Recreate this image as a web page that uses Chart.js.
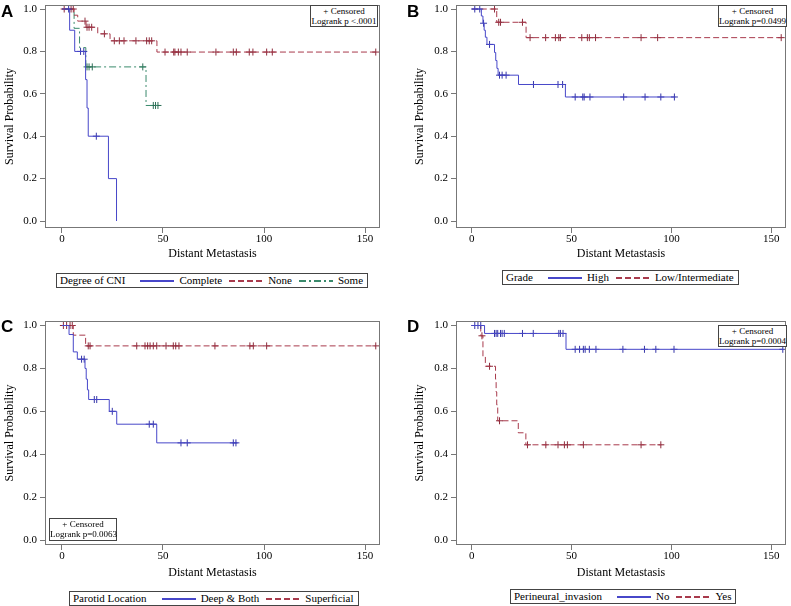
<!DOCTYPE html>
<html lang="en">
<head>
<meta charset="UTF-8">
<title>Distant metastasis - Kaplan-Meier curves</title>
<script src="https://cdn.jsdelivr.net/npm/chart.js"></script>
<style>
  body { margin: 0; background: #fff; font-family: 'Liberation Serif', 'Times New Roman', serif; color: #000; }
  #page { position: relative; width: 791px; height: 606px; overflow: hidden; }
  canvas { position: absolute; }
  .letter { position: absolute; font-family: 'Liberation Sans', Arial, sans-serif; font-weight: bold; font-size: 17px; line-height: 17px; }
  .inset { position: absolute; box-sizing: border-box; border: 1px solid #444; background: #fff;
           font-size: 9px; line-height: 10px; text-align: center; padding-top: 0; white-space: nowrap; }
  .legend { position: absolute; box-sizing: border-box; height: 15px; border: 1px solid #444;
            font-size: 11px; line-height: 13px; display: flex; align-items: center;
            padding: 0 4px 0 3px; white-space: nowrap; }
  .legend .ttl { margin-right: 15px; }
  .legend svg { display: block; margin-right: 5px; }
  .legend .lbl { margin-right: 7px; }
  .legend .lbl:last-child { margin-right: 0; }
</style>
</head>
<body>
<div id="page">
  <canvas id="cA"></canvas>
  <canvas id="cB"></canvas>
  <canvas id="cC"></canvas>
  <canvas id="cD"></canvas>

  <div class="letter" style="left:1px; top:3px;">A</div>
  <div class="letter" style="left:407px; top:3px;">B</div>
  <div class="letter" style="left:1px; top:318px;">C</div>
  <div class="letter" style="left:407px; top:318px;">D</div>

  <div class="inset" style="left:310px; top:5px; width:68px; height:22px;">+ Censored<br>Logrank p &lt;.0001</div>
  <div class="inset" style="left:718px; top:5px; width:69px; height:22px;">+ Censored<br>Logrank p=0.0499</div>
  <div class="inset" style="left:49px; top:518px; width:68px; height:23px;">+ Censored<br>Logrank p=0.0063</div>
  <div class="inset" style="left:718px; top:325px; width:69px; height:22px;">+ Censored<br>Logrank p=0.0004</div>

  <div class="legend" id="legA" style="left:56px; top:273px;"></div>
  <div class="legend" id="legB" style="left:502px; top:270px;"></div>
  <div class="legend" id="legC" style="left:69px; top:591px;"></div>
  <div class="legend" id="legD" style="left:510px; top:589px;"></div>
</div>

<script>
// axis ticks shared by all four panels
const xTicks = [0, 50, 100, 150];
const yTicks = [0, 0.2, 0.4, 0.6, 0.8, 1.0];

// A - Degree of CNI (step times, survival after the step, censor times)
const cniCompleteTimes = [0, 3.8, 6.3, 11.7, 12.4, 13, 23, 27];
const cniCompleteSurv  = [1, 0.9, 0.8, 0.667, 0.533, 0.4, 0.2, 0];
const cniCompleteCens  = [3.3, 9.2, 10.8, 17];
const cniNoneTimes = [0, 6, 7.8, 11.9, 17.7, 23.8, 47, 155.3];
const cniNoneSurv  = [1, 0.971, 0.943, 0.914, 0.883, 0.85, 0.797, 0.797];
const cniNoneCens  = [1.1, 4.5, 5.6, 11.4, 12.4, 13.4, 14.7, 21, 25.9, 28.4, 30.7, 36.6, 41.9, 43.2, 44.4,
                      51, 55.3, 55.9, 57.6, 58.9, 62, 76.2, 84.8, 86.3, 92.7, 94.5, 101.3, 104.1, 155.3];
const cniSomeTimes = [0, 6, 8.7, 11.8, 41.6, 47.5];
const cniSomeSurv  = [1, 0.909, 0.818, 0.727, 0.545, 0.545];
const cniSomeCens  = [12.4, 13.4, 15, 40, 45.2, 46.3, 47.5];

// B - Grade
const gradeHighTimes = [0, 4.8, 5.6, 6.2, 6.8, 7.6, 11.4, 12, 12.6, 13.2, 23.4, 46.9, 102];
const gradeHighSurv  = [1, 0.967, 0.933, 0.9, 0.867, 0.833, 0.795, 0.757, 0.72, 0.688, 0.644, 0.585, 0.585];
const gradeHighCens  = [1.5, 4, 5.9, 8.9, 13.9, 15.2, 17.2, 30.9, 43.2, 45.5, 51.8, 55.6, 56.3, 59.2, 76.1, 86.8, 94.7, 101.5];
const gradeLowTimes = [0, 12.5, 27.2, 155];
const gradeLowSurv  = [1, 0.9375, 0.865, 0.865];
const gradeLowCens  = [11.4, 13.5, 14.4, 25.4, 29.2, 37, 41.9, 43.6, 44.4, 55.1, 57.9, 58.9, 62, 84.8, 93.1, 155];

// C - Parotid location
const locDeepTimes = [0, 3.5, 5.6, 7.6, 11.4, 12, 12.6, 13.2, 23.4, 27.1, 46.9, 87];
const locDeepSurv  = [1, 0.958, 0.877, 0.843, 0.8, 0.75, 0.7, 0.655, 0.6, 0.54, 0.453, 0.453];
const locDeepCens  = [9.7, 11, 16, 17.2, 24.9, 43.2, 45.2, 58.9, 62, 84.8, 86.1];
const locSupTimes = [0, 5.6, 11.7, 155.3];
const locSupSurv  = [1, 0.955, 0.905, 0.905];
const locSupCens  = [0.7, 2.3, 4, 5.1, 13, 13.9, 37, 41.1, 42.4, 43.6, 45.2, 46.9, 51.5, 55.1, 56.3, 57.9,
                     75.7, 93, 94.7, 101.3, 155.3];

// D - Perineural invasion
const pniNoTimes = [0, 6.4, 47.2, 155.8];
const pniNoSurv  = [1, 0.963, 0.889, 0.889];
const pniNoCens  = [1.5, 3.1, 4.5, 11.4, 12.2, 13, 14.4, 15.2, 16.3, 25.4, 30.8, 43.6, 44.4, 45.7,
                    51.8, 54, 55.9, 56.8, 58.9, 62.2, 75.7, 86.5, 92.2, 101.3, 155.8];
const pniYesTimes = [0, 4.5, 5.6, 6.8, 11.9, 12.2, 12.5, 13, 23.3, 27.1, 95];
const pniYesSurv  = [1, 0.952, 0.857, 0.81, 0.75, 0.69, 0.63, 0.556, 0.5, 0.444, 0.444];
const pniYesCens  = [5.1, 8.9, 13.9, 27.9, 37.1, 43.2, 46.4, 47.9, 55.9, 84.8, 94.7];

const BLUE = '#4747c9', RED = '#a83a4c', GREEN = '#3a8a6c';
const SOLID = [], DASH = [6, 3], DASHDOT = [7, 3, 2, 3];
const serif = "'Liberation Serif', 'Times New Roman', serif";

function group(label, times, surv, cens, color, mark, dash) {
  return { label, times, surv, cens, color, mark, dash };
}

// survival value of the step curve at time t
function survAt(times, surv, t) {
  let s = surv[0];
  for (let i = 0; i < times.length; i++) if (times[i] <= t) s = surv[i];
  return s;
}

const framePlugin = {
  id: 'frame',
  afterDraw(chart) {
    const { ctx, chartArea: a } = chart;
    const l = Math.round(a.left) + 0.5, t = Math.round(a.top) + 0.5;
    const r = Math.round(a.right) - 0.5, b = Math.round(a.bottom) - 0.5;
    ctx.save();
    ctx.strokeStyle = '#777';
    ctx.lineWidth = 1;
    ctx.strokeRect(l, t, r - l, b - t);
    ctx.restore();
  }
};

const panels = [
  { id: 'cA', legend: 'legA', title: 'Degree of CNI',
    box: { x: 0, y: 0, w: 395, h: 265 }, plot: { left: 45, top: 2, right: 380, bottom: 228 },
    yTitleX: 10, xTitleY: 254, xMin: -8.4, xMax: 157.4, yMin: -0.033, yMax: 1.019,
    groups: [
      group('Complete', cniCompleteTimes, cniCompleteSurv, cniCompleteCens, BLUE, '#3535a8', SOLID),
      group('None', cniNoneTimes, cniNoneSurv, cniNoneCens, RED, '#8e2c3c', DASH),
      group('Some', cniSomeTimes, cniSomeSurv, cniSomeCens, GREEN, '#2c6e56', DASHDOT)
    ] },
  { id: 'cB', legend: 'legB', title: 'Grade',
    box: { x: 395, y: 0, w: 396, h: 265 }, plot: { left: 456, top: 2, right: 790, bottom: 228 },
    yTitleX: 419.5, xTitleY: 254, xMin: -7.9, xMax: 157.4, yMin: -0.033, yMax: 1.019,
    groups: [
      group('High', gradeHighTimes, gradeHighSurv, gradeHighCens, BLUE, '#3535a8', SOLID),
      group('Low/Intermediate', gradeLowTimes, gradeLowSurv, gradeLowCens, RED, '#8e2c3c', DASH)
    ] },
  { id: 'cC', legend: 'legC', title: 'Parotid Location',
    box: { x: 0, y: 300, w: 395, h: 285 }, plot: { left: 45, top: 321, right: 380, bottom: 545 },
    yTitleX: 10, xTitleY: 573, xMin: -8.4, xMax: 157.4, yMin: -0.023, yMax: 1.021,
    groups: [
      group('Deep & Both', locDeepTimes, locDeepSurv, locDeepCens, BLUE, '#3535a8', SOLID),
      group('Superficial', locSupTimes, locSupSurv, locSupCens, RED, '#8e2c3c', DASH)
    ] },
  { id: 'cD', legend: 'legD', title: 'Perineural_invasion',
    box: { x: 395, y: 300, w: 396, h: 285 }, plot: { left: 456, top: 321, right: 790, bottom: 545 },
    yTitleX: 420, xTitleY: 573, xMin: -7.9, xMax: 157.4, yMin: -0.023, yMax: 1.021,
    groups: [
      group('No', pniNoTimes, pniNoSurv, pniNoCens, BLUE, '#3535a8', SOLID),
      group('Yes', pniYesTimes, pniYesSurv, pniYesCens, RED, '#8e2c3c', DASH)
    ] }
];

function buildLegend(p) {
  let html = '<span class="ttl">' + p.title + '</span>';
  p.groups.forEach(g => {
    html += '<svg width="34" height="9" shape-rendering="crispEdges"><line x1="0" y1="5" x2="34" y2="5" style="stroke:' + g.color +
            ';stroke-width:1.2' + (g.dash.length ? ';stroke-dasharray:' + g.dash.join(',') : '') + '"/></svg>';
    html += '<span class="lbl">' + g.label.replace('&', '&amp;') + '</span>';
  });
  document.getElementById(p.legend).innerHTML = html;
}

function buildPanel(p) {
  const canvas = document.getElementById(p.id);
  canvas.width = p.box.w;
  canvas.height = p.box.h;
  canvas.style.left = p.box.x + 'px';
  canvas.style.top = p.box.y + 'px';

  const padLeft = p.yTitleX - p.box.x - 7.2;
  const yWidth = p.plot.left - p.box.x - padLeft;
  const xHeight = p.box.y + p.box.h - p.plot.bottom;

  const datasets = [];
  p.groups.forEach(g => {
    datasets.push({
      label: g.label,
      data: g.times.map((t, i) => ({ x: t, y: g.surv[i] })),
      stepped: 'before',
      borderColor: g.color,
      borderWidth: 1,
      borderDash: g.dash,
      pointRadius: 0,
      fill: false
    });
    datasets.push({
      label: g.label + ' censored',
      data: g.cens.map(t => ({ x: t, y: survAt(g.times, g.surv, t) })),
      showLine: false,
      pointStyle: 'cross',
      pointRadius: 3.5,
      borderColor: g.mark,
      borderWidth: 1
    });
  });

  new Chart(canvas, {
    type: 'line',
    data: { datasets },
    options: {
      responsive: false,
      animation: false,
      layout: { padding: { left: padLeft, top: p.plot.top - p.box.y, right: p.box.x + p.box.w - p.plot.right, bottom: 0 } },
      plugins: { legend: { display: false }, tooltip: { enabled: false } },
      scales: {
        x: {
          type: 'linear', min: p.xMin, max: p.xMax,
          afterBuildTicks: s => { s.ticks = xTicks.map(v => ({ value: v })); },
          afterFit: s => { s.height = xHeight; s.paddingLeft = 0; s.paddingRight = 0; },
          grid: { drawOnChartArea: false, color: '#777', tickLength: 5 },
          border: { display: false },
          ticks: { color: '#000', font: { family: serif, size: 11 }, padding: 0, maxRotation: 0, autoSkip: false },
          title: { display: true, text: 'Distant Metastasis', color: '#000', font: { family: serif, size: 12 },
                   padding: { top: 0, bottom: p.box.y + p.box.h - p.xTitleY - 7.2 } }
        },
        y: {
          type: 'linear', min: p.yMin, max: p.yMax,
          afterBuildTicks: s => { s.ticks = yTicks.map(v => ({ value: v })); },
          afterFit: s => { s.width = yWidth; s.paddingTop = 0; s.paddingBottom = 0; },
          grid: { drawOnChartArea: false, color: '#777', tickLength: 5 },
          border: { display: false },
          ticks: { color: '#000', font: { family: serif, size: 11 }, padding: 3, callback: v => v.toFixed(1) },
          title: { display: true, text: 'Survival Probability', color: '#000', font: { family: serif, size: 12 },
                   padding: { top: 0, bottom: 0 } }
        }
      }
    },
    plugins: [framePlugin]
  });
  buildLegend(p);
}

panels.forEach(buildPanel);
</script>
</body>
</html>
